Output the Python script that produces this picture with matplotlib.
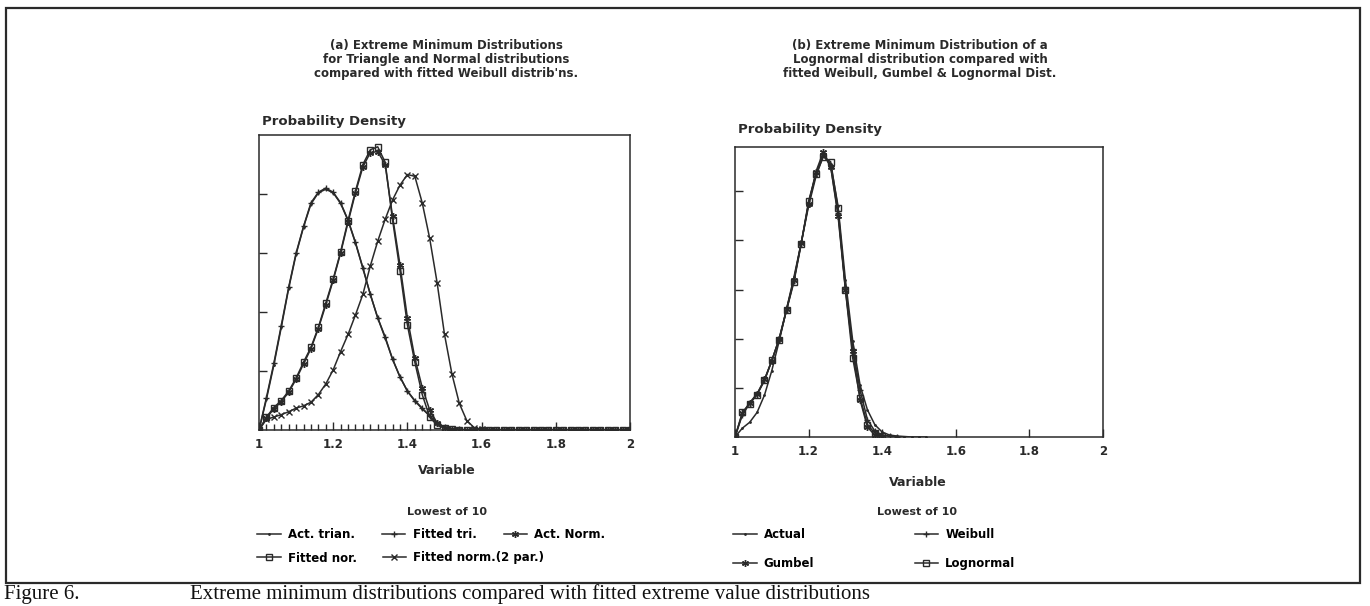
import matplotlib
matplotlib.use("Agg")
import matplotlib.pyplot as plt
from matplotlib.patches import Rectangle
from matplotlib.ticker import FixedLocator, NullFormatter

# ---- panel (a): lowest of 10, triangle & normal parents ----
x_a = [1.00, 1.02, 1.04, 1.06, 1.08, 1.10, 1.12, 1.14, 1.16, 1.18,
       1.20, 1.22, 1.24, 1.26, 1.28, 1.30, 1.32, 1.34, 1.36, 1.38,
       1.40, 1.42, 1.44, 1.46, 1.48, 1.50, 1.52, 1.54, 1.56, 1.58,
       1.60, 1.62, 1.64, 1.66, 1.68, 1.70, 1.72, 1.74, 1.76, 1.78,
       1.80, 1.82, 1.84, 1.86, 1.88, 1.90, 1.92, 1.94, 1.96, 1.98, 2.00]

act_trian = [0.0, 0.52, 1.10, 1.74, 2.40, 2.98, 3.44, 3.83, 4.02, 4.08,
             4.02, 3.84, 3.55, 3.17, 2.74, 2.30, 1.90, 1.56, 1.20, 0.90,
             0.66, 0.49, 0.36, 0.24, 0.12, 0.05, 0.02, 0.01, 0.0, 0.0,
             0.0, 0.0, 0.0, 0.0, 0.0, 0.0, 0.0, 0.0, 0.0, 0.0,
             0.0, 0.0, 0.0, 0.0, 0.0, 0.0, 0.0, 0.0, 0.0, 0.0, 0.0]
fitted_tri = [0.0, 0.55, 1.13, 1.77, 2.42, 3.00, 3.45, 3.85, 4.03, 4.10,
              4.03, 3.85, 3.56, 3.18, 2.75, 2.30, 1.90, 1.58, 1.20, 0.90,
              0.66, 0.50, 0.37, 0.24, 0.12, 0.05, 0.02, 0.01, 0.0, 0.0,
              0.0, 0.0, 0.0, 0.0, 0.0, 0.0, 0.0, 0.0, 0.0, 0.0,
              0.0, 0.0, 0.0, 0.0, 0.0, 0.0, 0.0, 0.0, 0.0, 0.0, 0.0]
act_norm = [0.0, 0.20, 0.36, 0.48, 0.64, 0.86, 1.12, 1.38, 1.72, 2.12,
            2.54, 3.00, 3.52, 4.02, 4.46, 4.70, 4.72, 4.50, 3.62, 2.80,
            1.90, 1.22, 0.72, 0.34, 0.12, 0.04, 0.01, 0.0, 0.0, 0.0,
            0.0, 0.0, 0.0, 0.0, 0.0, 0.0, 0.0, 0.0, 0.0, 0.0,
            0.0, 0.0, 0.0, 0.0, 0.0, 0.0, 0.0, 0.0, 0.0, 0.0, 0.0]
fitted_nor = [0.0, 0.22, 0.38, 0.50, 0.66, 0.88, 1.15, 1.40, 1.74, 2.15,
              2.56, 3.02, 3.55, 4.05, 4.50, 4.75, 4.80, 4.54, 3.56, 2.70,
              1.78, 1.15, 0.60, 0.22, 0.08, 0.03, 0.01, 0.0, 0.0, 0.0,
              0.0, 0.0, 0.0, 0.0, 0.0, 0.0, 0.0, 0.0, 0.0, 0.0,
              0.0, 0.0, 0.0, 0.0, 0.0, 0.0, 0.0, 0.0, 0.0, 0.0, 0.0]
fitted_norm2 = [0.0, 0.18, 0.22, 0.26, 0.31, 0.37, 0.41, 0.47, 0.60, 0.78,
                1.02, 1.33, 1.62, 1.95, 2.30, 2.78, 3.20, 3.57, 3.90, 4.15,
                4.33, 4.30, 3.85, 3.25, 2.50, 1.62, 0.95, 0.45, 0.16, 0.04,
                0.01, 0.0, 0.0, 0.0, 0.0, 0.0, 0.0, 0.0, 0.0, 0.0,
                0.0, 0.0, 0.0, 0.0, 0.0, 0.0, 0.0, 0.0, 0.0, 0.0, 0.0]

# ---- panel (b): lowest of 10, lognormal parent ----
x_b = [1.00, 1.02, 1.04, 1.06, 1.08, 1.10, 1.12, 1.14, 1.16, 1.18,
       1.20, 1.22, 1.24, 1.26, 1.28, 1.30, 1.32, 1.34, 1.36, 1.38,
       1.40, 1.42, 1.44, 1.46, 1.48, 1.50, 1.52]

actual = [0.0, 0.18, 0.30, 0.50, 0.85, 1.35, 1.95, 2.60, 3.25, 3.95,
          4.70, 5.30, 5.72, 5.55, 4.70, 3.20, 1.95, 1.05, 0.55, 0.25,
          0.10, 0.04, 0.02, 0.01, 0.0, 0.0, 0.0]
weibull = [0.0, 0.45, 0.68, 0.87, 1.15, 1.55, 2.00, 2.58, 3.18, 3.95,
           4.75, 5.35, 5.75, 5.50, 4.55, 3.05, 1.80, 0.95, 0.35, 0.12,
           0.04, 0.02, 0.01]
gumbel = [0.0, 0.48, 0.70, 0.88, 1.17, 1.55, 2.00, 2.60, 3.20, 3.95,
          4.75, 5.40, 5.80, 5.50, 4.50, 3.00, 1.75, 0.75, 0.20, 0.04, 0.0]
lognormal = [0.0, 0.50, 0.68, 0.86, 1.15, 1.56, 1.98, 2.58, 3.15, 3.93,
             4.80, 5.35, 5.70, 5.60, 4.65, 3.00, 1.60, 0.80, 0.25, 0.08, 0.03]

ink = "#2a2a2a"
bold = dict(family="DejaVu Sans", weight="bold", color=ink)

fig = plt.figure(figsize=(13.7, 6.06), dpi=100)
W, H = 1370.0, 606.0

def fx(px):
    return px / W

def fy(py):
    return 1 - py / H

# outer frame and caption
fig.patches.append(Rectangle((fx(6), fy(583)), fx(1360) - fx(6), fy(8) - fy(583),
                             transform=fig.transFigure, fill=False,
                             edgecolor=ink, linewidth=1.6))
fig.text(fx(4), fy(604), "Figure 6.", family="Liberation Serif", fontsize=15,
         va="bottom", ha="left", color="#111")
fig.text(fx(190), fy(604), "Extreme minimum distributions compared with fitted extreme value distributions",
         family="Liberation Serif", fontsize=15, va="bottom", ha="left", color="#111")

line_kw = dict(color=ink, linewidth=1.1, markersize=5, markeredgewidth=1.0)
star = (6, 2, 0)


def style_axes(ax, ylim, yticks):
    ax.set_xlim(1, 2)
    ax.set_ylim(0, ylim)
    ax.set_xticks([1, 1.2, 1.4, 1.6, 1.8, 2])
    ax.set_xticklabels(["1", "1.2", "1.4", "1.6", "1.8", "2"], **bold, fontsize=8.5)
    ax.set_yticks(yticks)
    ax.yaxis.set_major_formatter(NullFormatter())
    ax.tick_params(direction="in", length=6, width=1.0, color=ink, pad=6)
    for s in ax.spines.values():
        s.set_color(ink)
        s.set_linewidth(1.1)


# ---- (a) ----
ax_a = fig.add_axes([fx(259), fy(430), fx(630) - fx(259), fy(135) - fy(430)])
ha1, = ax_a.plot(x_a, act_trian, marker=".", markersize=2, color=ink, linewidth=1.1)
ha2, = ax_a.plot(x_a, fitted_tri, marker="+", **line_kw)
ha3, = ax_a.plot(x_a, act_norm, marker=star, **line_kw)
ha4, = ax_a.plot(x_a, fitted_nor, marker="s", fillstyle="none", **line_kw)
ha5, = ax_a.plot(x_a, fitted_norm2, marker="x", **line_kw)
style_axes(ax_a, 5, [1, 2, 3, 4])
ax_a.xaxis.set_minor_locator(FixedLocator(x_a[1:24]))
ax_a.tick_params(which="minor", direction="in", length=4, width=1.0, color=ink)

fig.text(fx(446), fy(60), "(a) Extreme Minimum Distributions\nfor Triangle and Normal distributions\n"
         "compared with fitted Weibull distrib'ns.", ha="center", va="center",
         fontsize=8.5, linespacing=1.1, **bold)
fig.text(fx(262), fy(121), "Probability Density", ha="left", va="center", fontsize=9.5, **bold)
fig.text(fx(447), fy(471), "Variable", ha="center", va="center", fontsize=9, **bold)
fig.text(fx(447), fy(512), "Lowest of 10", ha="center", va="center", fontsize=8, **bold)

leg_kw = dict(frameon=False, borderpad=0, borderaxespad=0, handlelength=2.0,
              handletextpad=0.6, numpoints=1, loc="center left",
              prop=dict(family="DejaVu Sans", weight="bold", size=8.5))
fig.legend([ha1, ha2, ha3], ["Act. trian.", "Fitted tri.", "Act. Norm."], ncol=3,
           columnspacing=2.3, bbox_to_anchor=(fx(257), fy(535)), **leg_kw)
fig.legend([ha4, ha5], ["Fitted nor.", "Fitted norm.(2 par.)"], ncol=2,
           columnspacing=2.2, bbox_to_anchor=(fx(257), fy(558)), **leg_kw)

# ---- (b) ----
ax_b = fig.add_axes([fx(735), fy(437), fx(1103) - fx(735), fy(147) - fy(437)])
hb1, = ax_b.plot(x_b, actual, marker=".", markersize=2, color=ink, linewidth=1.1)
hb2, = ax_b.plot(x_b[:len(weibull)], weibull, marker="+", **line_kw)
hb3, = ax_b.plot(x_b[:len(gumbel)], gumbel, marker=star, **line_kw)
hb4, = ax_b.plot(x_b[:len(lognormal)], lognormal, marker="s", fillstyle="none", **line_kw)
style_axes(ax_b, 5.9, [1, 2, 3, 4, 5])

fig.text(fx(920), fy(60), "(b) Extreme Minimum Distribution of a\nLognormal distribution compared with\n"
         "fitted Weibull, Gumbel & Lognormal Dist.", ha="center", va="center",
         fontsize=8.5, linespacing=1.1, **bold)
fig.text(fx(738), fy(130), "Probability Density", ha="left", va="center", fontsize=9.5, **bold)
fig.text(fx(918), fy(483), "Variable", ha="center", va="center", fontsize=9, **bold)
fig.text(fx(917), fy(512), "Lowest of 10", ha="center", va="center", fontsize=8, **bold)

fig.legend([hb1, hb3, hb2, hb4], ["Actual", "Gumbel", "Weibull", "Lognormal"], ncol=2,
           columnspacing=8.5, labelspacing=1.3, bbox_to_anchor=(fx(733), fy(549)), **leg_kw)

fig.savefig("out.png", dpi=100)
